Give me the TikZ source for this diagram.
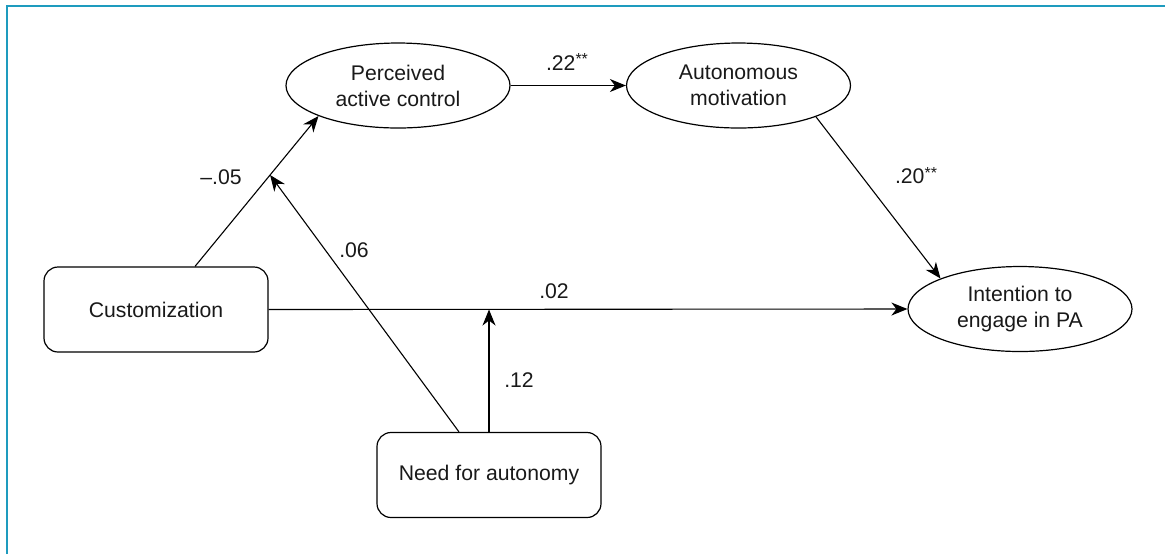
\documentclass[tikz,border=0pt]{standalone}
\usepackage{fontspec}
\setmainfont{Liberation Sans}
\usetikzlibrary{shapes.geometric,arrows.meta}
\definecolor{frameblue}{RGB}{30,155,190}
\newcommand{\sigstars}{\raisebox{0.45ex}{\fontsize{8}{8}\selectfont **}}
\begin{document}
\begin{tikzpicture}[x=0.5pt,y=-0.5pt,
  every node/.style={font=\fontsize{10.6}{13}\selectfont, text=black!90},
  latent/.style={ellipse, draw, line width=0.6pt, inner sep=0pt, minimum width=112pt, minimum height=42.5pt, align=center},
  obsbox/.style={rectangle, rounded corners=7pt, draw, line width=0.6pt, inner sep=0pt, minimum width=112pt, minimum height=42.5pt, align=center},
  arr/.style={line width=0.55pt, -{Stealth[length=8pt,width=6.5pt,inset=2.5pt]}},
  lbl/.style={inner sep=0pt}]
\useasboundingbox (0,0) rectangle (1165,554);
\draw[frameblue, line width=1.2pt] (7,554) -- (7,6) -- (1165,6);

\node[latent] (pac) at (398,85.5) {Perceived\\active control};
\node[latent] (am) at (738.5,85.5) {Autonomous\\motivation};
\node[latent] (int) at (1020,309) {Intention to\\engage in PA};
\node[obsbox] (cust) at (156,309.5) {Customization};
\node[obsbox] (need) at (489,475) {Need for autonomy};

\draw[arr] ([xshift=19.5pt]cust.north) -- (pac.201) coordinate[pos=0.608] (m1);
\draw[arr] ([xshift=-15pt]need.north) -- (m1);
\draw[arr] (cust.east) -- (int.west);
\draw[arr] (need.north) -- (need.north |- cust.east);
\draw[arr] (pac.east) -- (am.west);
\draw[arr] (am.-22) -- (int.159);

\node[lbl] (l1) at (221,177) {--.05};
\node[lbl] (l2) at (354,250) {.06};
\node[lbl] (l3) at (567,62) {.22\sigstars};
\node[lbl] (l4) at (916,176) {.20\sigstars};
\node[lbl] (l5) at (554,291) {.02};
\node[lbl] (l6) at (519,380) {.12};
\end{tikzpicture}
\end{document}
